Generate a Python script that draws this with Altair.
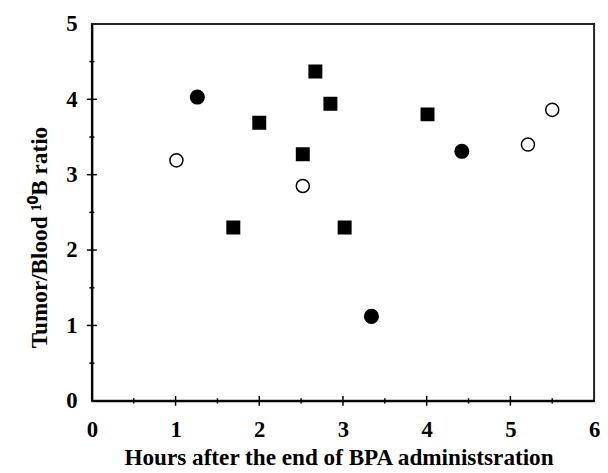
import altair as alt
import pandas as pd

# ---- data ----
filled_circle_x = [1.26, 3.34, 4.42]
filled_circle_y = [4.03, 1.12, 3.31]

open_circle_x = [1.01, 2.52, 5.21, 5.50]
open_circle_y = [3.19, 2.85, 3.40, 3.86]

square_x = [1.69, 2.00, 2.52, 2.67, 2.85, 3.02, 4.01]
square_y = [2.30, 3.69, 3.27, 4.37, 3.94, 2.30, 3.80]

x_major = [1, 2, 3, 4, 5]
x_minor = [0.5, 1.5, 2.5, 3.5, 4.5, 5.5]
y_major = [1, 2, 3, 4]
y_minor = [0.5, 1.5, 2.5, 3.5, 4.5]

x_title = "Hours after the end of BPA administsration"
y_title = "Tumor/Blood \u00b9\u2070B ratio"

FONT = "Liberation Serif"

rows = []
for x, y in zip(filled_circle_x, filled_circle_y):
    rows.append({"hours": x, "ratio": y, "group": "filled"})
for x, y in zip(open_circle_x, open_circle_y):
    rows.append({"hours": x, "ratio": y, "group": "open"})
for x, y in zip(square_x, square_y):
    rows.append({"hours": x, "ratio": y, "group": "square"})
pts = pd.DataFrame(rows)

xs = alt.Scale(domain=[0, 6], nice=False, zero=False)
ys = alt.Scale(domain=[0, 5], nice=False, zero=False)

x_axis = alt.Axis(
    values=[0, 1, 2, 3, 4, 5, 6], format="d", ticks=False, grid=False,
    domainColor="black", domainWidth=2,
    labelFont=FONT, labelFontSize=23, labelFontWeight="bold", labelColor="black",
    labelPadding=18, labelFlush=False,
    title=x_title, titleFont=FONT, titleFontSize=23.5, titleFontWeight="bold",
    titleColor="black", titleBaseline="alphabetic", titleY=65, titleX=250,
)
y_axis = alt.Axis(
    values=[0, 1, 2, 3, 4, 5], format="d", ticks=False, grid=False,
    domainColor="black", domainWidth=2,
    labelFont=FONT, labelFontSize=23, labelFontWeight="bold", labelColor="black",
    labelPadding=15, labelFlush=False,
    title=y_title, titleFont=FONT, titleFontSize=23.5, titleFontWeight="bold",
    titleColor="black", titleX=-53, titleY=216, titleBaseline="middle", titleAngle=270,
)

points = alt.Chart(pts).mark_point(filled=True, stroke="black", strokeWidth=1.5, opacity=1).encode(
    x=alt.X("hours:Q", scale=xs, axis=x_axis),
    y=alt.Y("ratio:Q", scale=ys, axis=y_axis),
    shape=alt.Shape("group:N", scale=alt.Scale(domain=["filled", "open", "square"],
                                               range=["circle", "circle", "square"]), legend=None),
    fill=alt.Fill("group:N", scale=alt.Scale(domain=["filled", "open", "square"],
                                             range=["black", "white", "black"]), legend=None),
    size=alt.Size("group:N", scale=alt.Scale(domain=["filled", "open", "square"],
                                             range=[190, 160, 170]), legend=None),
)

def xticks(vals, half):
    df = pd.DataFrame({"t": vals, "lo": -half, "hi": half})
    return alt.Chart(df).mark_rule(strokeWidth=1.5, color="black").encode(
        x=alt.X("t:Q", scale=xs),
        y=alt.Y("lo:Q", scale=ys),
        y2="hi:Q",
    )

def yticks(vals, half):
    df = pd.DataFrame({"t": vals, "lo": -half, "hi": half})
    return alt.Chart(df).mark_rule(strokeWidth=1.5, color="black").encode(
        y=alt.Y("t:Q", scale=ys),
        x=alt.X("lo:Q", scale=xs),
        x2="hi:Q",
    )

chart = alt.layer(
    xticks(x_major, 0.065), xticks(x_minor, 0.035),
    yticks(y_major, 0.06), yticks(y_minor, 0.03),
    points,
).properties(
    width=509, height=382,
    autosize=alt.AutoSizeParams(type="none"),
    padding={"left": 85, "top": 13, "right": 6, "bottom": 70},
    background="white",
).configure_view(stroke="#222", strokeWidth=2)

chart.save("out.html", embed_options={"renderer": "svg", "actions": False})
